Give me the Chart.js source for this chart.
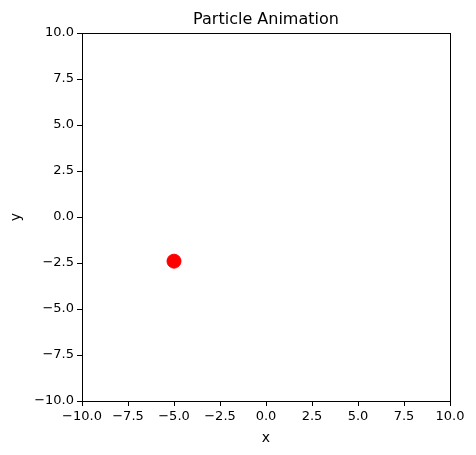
<!DOCTYPE html>
<html>
<head>
<meta charset="utf-8">
<script src="https://cdn.jsdelivr.net/npm/chart.js@4/dist/chart.umd.min.js"></script>
<style>
  html, body { margin: 0; padding: 0; background: #fff; }
</style>
</head>
<body>
<canvas id="chart" width="476" height="455"></canvas>
<script>
const particleX = [-5.0];
const particleY = [-2.4];
const axisMin = -10;
const axisMax = 10;
const tickStep = 2.5;
const chartTitle = "Particle Animation";

const fmt = (v) => v.toFixed(1).replace("-", "\u2212");

// frame around the plot plus a title centred over the plot area
const frame = {
  id: "frame",
  afterDraw(chart) {
    const { ctx, chartArea: a } = chart;
    ctx.save();
    ctx.strokeStyle = "#000";
    ctx.lineWidth = 1;
    ctx.strokeRect(a.left + 0.5, a.top + 0.5, a.right - a.left, a.bottom - a.top);
    ctx.fillStyle = "#000";
    ctx.font = "16px 'DejaVu Sans'";
    ctx.textAlign = "center";
    ctx.textBaseline = "alphabetic";
    ctx.fillText(chartTitle, (a.left + a.right) / 2, a.top - 9);
    ctx.restore();
  },
};

const axis = (title, fit, titlePad) => ({
  type: "linear",
  min: axisMin,
  max: axisMax,
  ticks: {
    stepSize: tickStep,
    color: "#000",
    font: { family: "DejaVu Sans", size: 13 },
    callback: (v) => fmt(v),
    padding: 3,
  },
  grid: { drawOnChartArea: false, tickLength: 5, color: "#000" },
  border: { display: true, color: "#000" },
  title: {
    display: true,
    text: title,
    color: "#000",
    font: { family: "DejaVu Sans", size: 14 },
    padding: titlePad,
  },
  afterFit: fit,
});

new Chart(document.getElementById("chart"), {
  type: "scatter",
  data: {
    datasets: [
      {
        data: particleX.map((x, i) => ({ x, y: particleY[i] })),
        backgroundColor: "#ff0000",
        borderColor: "#ff0000",
        pointRadius: 7,
      },
    ],
  },
  options: {
    responsive: false,
    animation: false,
    devicePixelRatio: 1,
    layout: { padding: { left: 4, right: 26, top: 33, bottom: 0 } },
    plugins: {
      legend: { display: false },
      tooltip: { enabled: false },
    },
    scales: {
      x: axis("x", (s) => { s.height = 54; }, { top: 0, bottom: 8 }),
      y: axis("y", (s) => { s.width = 78; }, 4),
    },
  },
  plugins: [frame],
});
</script>
</body>
</html>
